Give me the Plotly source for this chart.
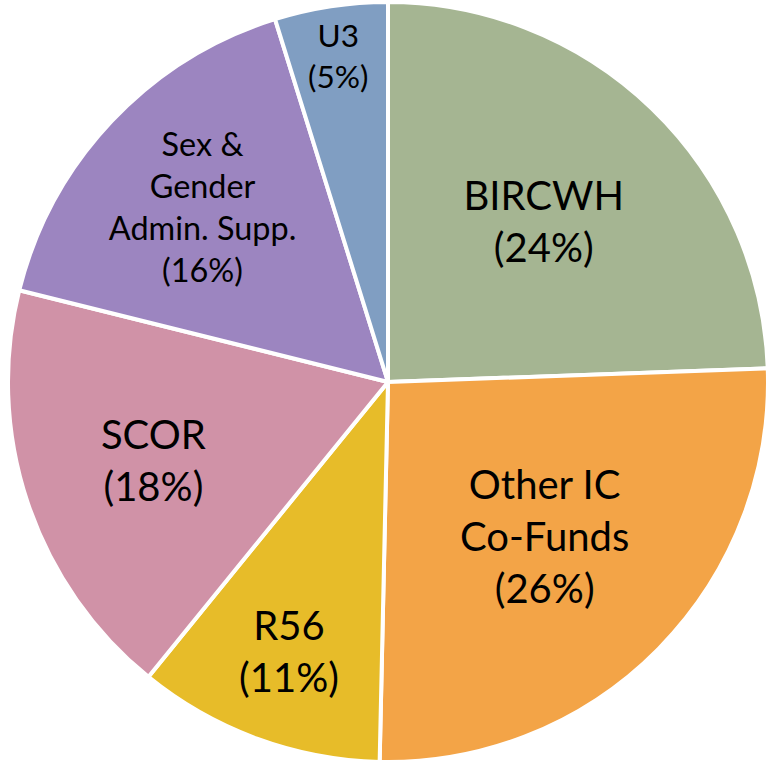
import plotly.graph_objects as go

# slices clockwise from 12 o'clock
labels = ["BIRCWH", "Other IC<br>Co-Funds", "R56", "SCOR",
          "Sex &<br>Gender<br>Admin. Supp.", "U3"]
values = [24.4, 25.9, 10.5, 18.0, 16.3, 4.8]
pct_text = ["24%", "26%", "11%", "18%", "16%", "5%"]
colors = ["#A5B592", "#F3A447", "#E7BC29", "#D092A7", "#9C85C0", "#809EC2"]

fig = go.Figure(go.Pie(
    labels=labels,
    values=values,
    text=[f"{l}<br>({p})" for l, p in zip(labels, pct_text)],
    textinfo="text",
    textposition="inside",
    insidetextorientation="horizontal",
    sort=False,
    direction="clockwise",
    rotation=0,
    marker=dict(colors=colors, line=dict(color="white", width=4)),
    textfont=dict(family="Lato", size=40, color="black"),
    domain=dict(x=[8 / 768, 1], y=[0, 1]),
    showlegend=False,
))

fig.update_layout(
    width=768, height=764,
    margin=dict(l=0, r=0, t=0, b=0),
    paper_bgcolor="white",
)

fig.write_html("out.html", config={"displayModeBar": False},
               post_script="document.body.style.margin='0';")
